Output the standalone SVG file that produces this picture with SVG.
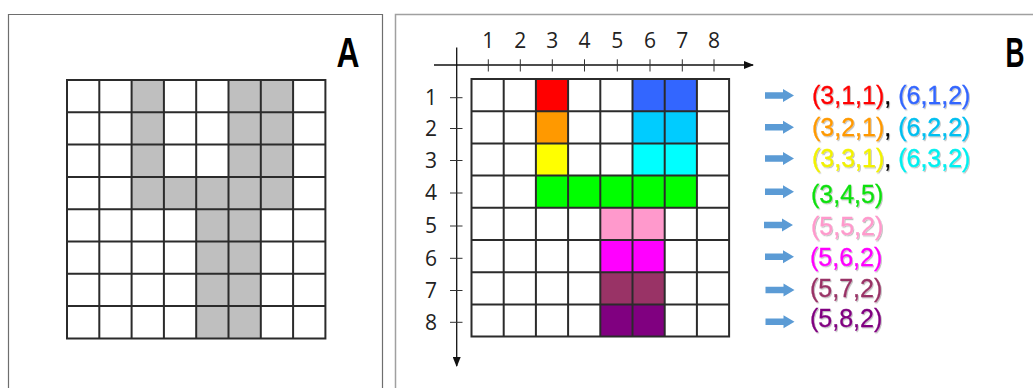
<svg xmlns="http://www.w3.org/2000/svg" width="1033" height="388" viewBox="0 0 1033 388">
<style>
.frameA{fill:none;stroke:#6e6e6e;stroke-width:1.2}
.frameB{fill:none;stroke:#a0a0a0;stroke-width:1.5}
.grid{fill:none;stroke:#2b2b2b;stroke-width:2}
.g{fill:#bfbfbf}
.ax{stroke:#111;stroke-width:1.3;fill:none}
.tick{stroke:#333;stroke-width:1}
.num{font-family:"Open Sans","DejaVu Sans",sans-serif;font-size:21px;fill:#222}
.big{font-family:"Liberation Sans",Arial,sans-serif;font-weight:bold;font-size:42px;fill:#000}
.lbl{font-family:"Liberation Sans",Arial,sans-serif;font-size:25px;stroke-width:0.3;filter:url(#sh)}
.arr{fill:#5b9bd5}
</style>
<defs>
<marker id="ah" markerWidth="10" markerHeight="8" refX="9" refY="4" orient="auto" markerUnits="userSpaceOnUse">
<path d="M0,0 L10,4 L0,8 Z" fill="#111"/>
</marker>
<filter id="sh" x="-10%" y="-20%" width="120%" height="150%">
<feDropShadow dx="1" dy="1.2" stdDeviation="0.6" flood-color="#000" flood-opacity="0.25"/>
</filter>
<path id="blk" d="M0,-3.2 H18 V-6.5 L29,0 L18,6.5 V3.2 H0 Z"/>
</defs>

<!-- Panel A -->
<g id="panelA">
<path class="frameA" d="M8.5,400 V14.5 H382.5 V400"/>
<text class="big" x="336.5" y="67" textLength="23" lengthAdjust="spacingAndGlyphs">A</text>
<g id="gridA">
<rect class="g" x="131.6" y="80" width="32.3" height="129.2"/>
<rect class="g" x="228.5" y="80" width="64.6" height="129.2"/>
<rect class="g" x="131.6" y="176.9" width="161.5" height="32.3"/>
<rect class="g" x="196.2" y="176.9" width="64.6" height="161.5"/>
<path class="grid" d="M67,80 H325.4 V338.4 H67 Z M99.3,80 V338.4 M131.6,80 V338.4 M163.9,80 V338.4 M196.2,80 V338.4 M228.5,80 V338.4 M260.8,80 V338.4 M293.1,80 V338.4 M67,112.3 H325.4 M67,144.6 H325.4 M67,176.9 H325.4 M67,209.2 H325.4 M67,241.5 H325.4 M67,273.8 H325.4 M67,306.1 H325.4"/>
</g>
</g>

<!-- Panel B -->
<g id="panelB">
<path class="frameB" d="M395.5,400 V14.5 H1040"/>
<text class="big" x="1005.5" y="67" textLength="19" lengthAdjust="spacingAndGlyphs">B</text>
<g id="gridB">
<rect fill="#ff0000" x="535.9" y="79" width="32.2" height="32.2"/>
<rect fill="#ff9900" x="535.9" y="111.2" width="32.2" height="32.2"/>
<rect fill="#ffff00" x="535.9" y="143.4" width="32.2" height="32.2"/>
<rect fill="#3366ff" x="632.5" y="79" width="64.4" height="32.2"/>
<rect fill="#00ccff" x="632.5" y="111.2" width="64.4" height="32.2"/>
<rect fill="#00ffff" x="632.5" y="143.4" width="64.4" height="32.2"/>
<rect fill="#00ff00" x="535.9" y="175.6" width="161" height="32.2"/>
<rect fill="#ff99cc" x="600.3" y="207.8" width="64.4" height="32.2"/>
<rect fill="#ff00ff" x="600.3" y="240" width="64.4" height="32.2"/>
<rect fill="#993366" x="600.3" y="272.2" width="64.4" height="32.2"/>
<rect fill="#800080" x="600.3" y="304.4" width="64.4" height="32.2"/>
<path class="grid" d="M471.5,79 H729.1 V336.6 H471.5 Z M503.7,79 V336.6 M535.9,79 V336.6 M568.1,79 V336.6 M600.3,79 V336.6 M632.5,79 V336.6 M664.7,79 V336.6 M696.9,79 V336.6 M471.5,111.2 H729.1 M471.5,143.4 H729.1 M471.5,175.6 H729.1 M471.5,207.8 H729.1 M471.5,240 H729.1 M471.5,272.2 H729.1 M471.5,304.4 H729.1"/>
</g>
</g>

<!-- Axes -->
<g id="axes">
<line class="ax" x1="434" y1="65" x2="753" y2="65" marker-end="url(#ah)"/>
<line class="ax" x1="456.7" y1="47.5" x2="456.7" y2="366" marker-end="url(#ah)"/>
<path class="tick" d="M488.3,59.3 V71.5 M520.3,59.3 V71.5 M552.3,59.3 V71.5 M584.5,59.3 V71.5 M617.3,59.3 V71.5 M650,59.3 V71.5 M682.3,59.3 V71.5 M714,59.3 V71.5"/>
<path class="tick" d="M450,97.7 H462.5 M450,128.5 H462.5 M450,160.5 H462.5 M450,193 H462.5 M450,226 H462.5 M450,258.3 H462.5 M450,290.5 H462.5 M450,322.3 H462.5"/>
<g class="num" text-anchor="middle">
<text x="488.3" y="48">1</text>
<text x="520.3" y="48">2</text>
<text x="552.3" y="48">3</text>
<text x="584.5" y="48">4</text>
<text x="617.3" y="48">5</text>
<text x="650" y="48">6</text>
<text x="682.3" y="48">7</text>
<text x="714" y="48">8</text>
</g>
<g class="num" text-anchor="end">
<text x="437" y="104.8">1</text>
<text x="437" y="135.6">2</text>
<text x="437" y="167.6">3</text>
<text x="437" y="200.2">4</text>
<text x="437" y="233.3">5</text>
<text x="437" y="265.6">6</text>
<text x="437" y="297.8">7</text>
<text x="437" y="329.8">8</text>
</g>
</g>

<!-- Connectors: arrows to labels -->
<g id="connectors" class="arr">
<use href="#blk" x="765" y="95.5"/>
<use href="#blk" x="765" y="127.3"/>
<use href="#blk" x="765" y="158.5"/>
<use href="#blk" x="765" y="191.7"/>
<use href="#blk" x="764" y="225"/>
<use href="#blk" x="765" y="256.7"/>
<use href="#blk" x="765.5" y="290"/>
<use href="#blk" x="765.5" y="321.7"/>
</g>

<!-- Labels -->
<g id="labels" class="lbl">
<text x="812" y="103.5"><tspan fill="#ff0000" stroke="#ff0000">(3,1,1)</tspan><tspan fill="#000" stroke="#000">, </tspan><tspan fill="#3366ff" stroke="#3366ff">(6,1,2)</tspan></text>
<text x="812" y="136"><tspan fill="#ff9900" stroke="#ff9900">(3,2,1)</tspan><tspan fill="#000" stroke="#000">, </tspan><tspan fill="#00bff0" stroke="#00bff0">(6,2,2)</tspan></text>
<text x="812" y="167"><tspan fill="#f2f200" stroke="#f2f200">(3,3,1)</tspan><tspan fill="#000" stroke="#000">, </tspan><tspan fill="#00f0f0" stroke="#00f0f0">(6,3,2)</tspan></text>
<text x="811" y="202.5" fill="#11e011" stroke="#11e011">(3,4,5)</text>
<text x="811" y="235" fill="#ff99cc" stroke="#ff99cc">(5,5,2)</text>
<text x="810" y="265.5" fill="#ff00ff" stroke="#ff00ff">(5,6,2)</text>
<text x="810" y="297" fill="#993366" stroke="#993366">(5,7,2)</text>
<text x="810" y="327" fill="#800080" stroke="#800080">(5,8,2)</text>
</g>
</svg>
